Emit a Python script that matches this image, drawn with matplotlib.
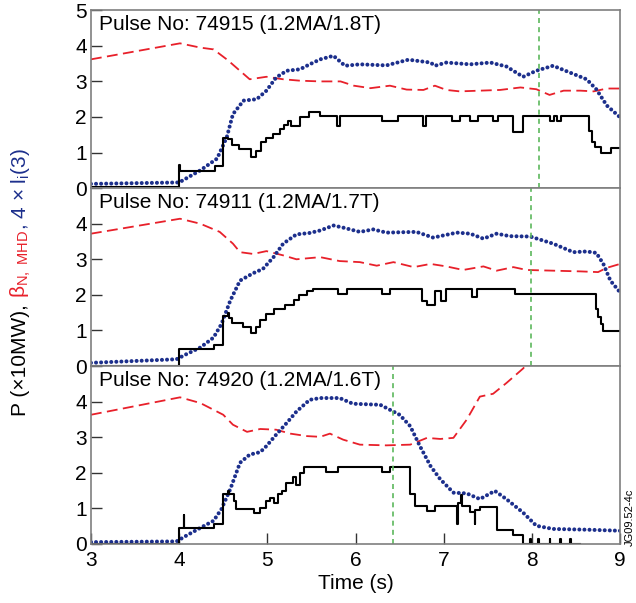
import matplotlib
matplotlib.use("Agg")
import matplotlib.pyplot as plt

plt.rcParams["font.family"] = ["Liberation Sans", "DejaVu Sans"]
plt.rcParams["mathtext.fontset"] = "custom"
plt.rcParams["mathtext.rm"] = "Liberation Sans"
plt.rcParams["mathtext.it"] = "Liberation Sans:italic"
plt.rcParams["mathtext.default"] = "regular"

# ---- pulse labels and green marker times
titles = ["Pulse No: 74915 (1.2MA/1.8T)",
          "Pulse No: 74911 (1.2MA/1.7T)",
          "Pulse No: 74920 (1.2MA/1.6T)"]
green_t = [8.08, 7.99, 6.42]

# ---- beta_N (red dashed)
beta_t1 = [3.0, 4.01, 4.24, 4.39, 4.55, 4.8, 4.99, 5.18, 5.37, 5.6, 5.83, 5.98, 6.17, 6.39,
           6.58, 6.77, 6.9, 7.03, 7.18, 7.41, 7.64, 7.87, 8.05, 8.2, 8.36, 8.55, 8.7, 8.85, 9.0]
beta_v1 = [3.62, 4.07, 3.95, 3.9, 3.6, 3.06, 3.13, 3.06, 3.02, 3.0, 3.0, 2.88, 2.81, 2.88,
           2.77, 2.76, 2.88, 2.76, 2.72, 2.74, 2.76, 2.83, 2.78, 2.62, 2.74, 2.74, 2.72, 2.8, 2.8]
beta_t2 = [3.0, 4.01, 4.24, 4.46, 4.61, 4.69, 4.84, 4.99, 5.18, 5.33, 5.6, 5.82, 6.05, 6.24,
           6.43, 6.66, 6.85, 7.03, 7.22, 7.45, 7.6, 7.79, 7.94, 8.24, 8.55, 8.75, 8.85, 9.0]
beta_v2 = [3.72, 4.14, 4.0, 3.77, 3.44, 3.2, 3.15, 3.23, 3.11, 3.0, 3.06, 2.95, 2.92, 2.82,
           2.92, 2.78, 2.87, 2.8, 2.7, 2.8, 2.68, 2.78, 2.7, 2.68, 2.66, 2.64, 2.76, 2.87]
beta_t3 = [3.0, 4.01, 4.24, 4.5, 4.61, 4.77, 4.92, 5.1, 5.26, 5.45, 5.6, 5.71, 5.86, 6.05,
           6.35, 6.62, 6.81, 6.96, 7.11, 7.26, 7.41, 7.56, 7.71, 7.9, 8.0, 8.1]
beta_v3 = [3.63, 4.12, 3.96, 3.63, 3.35, 3.15, 3.23, 3.21, 3.1, 3.03, 3.01, 3.1, 2.93, 2.79,
           2.77, 2.79, 2.98, 2.95, 2.98, 3.49, 4.14, 4.22, 4.52, 4.93, 5.2, 5.4]

# ---- 4 x li(3) (blue dots)
li_t1 = [3.0, 4.0, 4.24, 4.43, 4.54, 4.61, 4.73, 4.88, 4.99, 5.1, 5.22, 5.37, 5.48, 5.6,
         5.75, 5.88, 6.05, 6.35, 6.6, 6.85, 6.9, 7.03, 7.3, 7.53, 7.71, 7.9, 8.05, 8.24,
         8.43, 8.62, 8.73, 8.85, 9.0]
li_v1 = [0.12, 0.16, 0.5, 0.83, 1.43, 2.08, 2.46, 2.5, 2.74, 3.11, 3.3, 3.34, 3.48, 3.62,
         3.72, 3.44, 3.48, 3.45, 3.61, 3.53, 3.44, 3.53, 3.48, 3.53, 3.42, 3.13, 3.3, 3.44,
         3.25, 3.06, 2.78, 2.32, 1.99]
li_t2 = [3.0, 3.97, 4.08, 4.24, 4.39, 4.48, 4.58, 4.69, 4.84, 4.95, 5.07, 5.18, 5.33, 5.48,
         5.6, 5.75, 5.86, 6.05, 6.2, 6.35, 6.69, 6.88, 7.15, 7.3, 7.45, 7.6, 7.75, 7.98,
         8.24, 8.47, 8.62, 8.73, 8.81, 8.89, 9.0]
li_v2 = [0.09, 0.19, 0.33, 0.52, 0.8, 1.18, 1.84, 2.4, 2.61, 2.73, 3.06, 3.44, 3.7, 3.74,
         3.81, 3.95, 3.89, 3.77, 3.84, 3.75, 3.77, 3.61, 3.75, 3.72, 3.58, 3.72, 3.65, 3.64,
         3.44, 3.2, 3.22, 3.18, 2.87, 2.4, 2.07]
li_t3 = [3.0, 3.97, 4.08, 4.24, 4.39, 4.48, 4.58, 4.69, 4.8, 4.92, 4.99, 5.1, 5.22, 5.33,
         5.48, 5.6, 5.82, 5.97, 6.28, 6.39, 6.5, 6.62, 6.73, 6.85, 6.96, 7.11, 7.26, 7.41,
         7.58, 7.71, 7.9, 8.05, 8.24, 8.62, 9.0]
li_v3 = [0.05, 0.07, 0.23, 0.45, 0.65, 0.98, 1.54, 2.28, 2.51, 2.58, 2.75, 3.07, 3.4, 3.72,
         4.05, 4.1, 4.1, 3.94, 3.91, 3.77, 3.63, 3.31, 2.75, 2.19, 1.82, 1.44, 1.42, 1.26,
         1.49, 1.26, 0.88, 0.51, 0.42, 0.4, 0.37]

# ---- heating power P (black steps, value holds until next time)
p_t1 = [3.0, 4.0, 4.01, 4.41, 4.5, 4.55, 4.6, 4.68, 4.82, 4.87, 4.93, 4.98, 5.06, 5.14,
        5.19, 5.24, 5.27, 5.37, 5.47, 5.6, 5.79, 5.82, 6.3, 6.48, 6.77, 6.8, 7.09, 7.18,
        7.3, 7.39, 7.56, 7.62, 7.79, 7.9, 8.2, 8.25, 8.28, 8.33, 8.65, 8.68, 8.71, 8.78,
        8.9, 9.0]
p_v1 = [0.02, 0.65, 0.48, 0.62, 1.42, 1.38, 1.2, 1.1, 0.88, 1.05, 1.3, 1.4, 1.52, 1.65,
        1.78, 1.88, 1.75, 2.0, 2.15, 2.02, 1.76, 2.02, 1.88, 2.02, 1.76, 2.02, 1.88, 2.02,
        1.88, 2.02, 1.88, 2.02, 1.57, 2.02, 1.88, 2.02, 1.88, 2.02, 1.6, 1.3, 1.15, 0.98,
        1.12, 1.12]
p_t2 = [3.0, 4.0, 4.39, 4.5, 4.55, 4.56, 4.6, 4.72, 4.82, 4.87, 4.92, 4.98, 5.07, 5.2,
        5.3, 5.36, 5.45, 5.52, 5.8, 5.9, 6.3, 6.39, 6.75, 6.81, 6.9, 6.97, 7.03, 7.32,
        7.38, 7.81, 8.73, 8.75, 8.78, 8.81, 9.0]
p_v2 = [0.0, 0.47, 0.6, 1.41, 1.5, 1.35, 1.2, 1.1, 0.93, 1.1, 1.3, 1.45, 1.6, 1.72,
        1.85, 2.0, 2.1, 2.17, 2.02, 2.17, 2.02, 2.17, 1.84, 1.71, 2.1, 1.84, 2.17, 1.95,
        2.17, 2.02, 1.6, 1.37, 1.18, 0.99, 0.99]
p_t3 = [3.0, 4.0, 4.05, 4.06, 4.39, 4.5, 4.55, 4.57, 4.62, 4.64, 4.85, 4.92, 4.98, 5.03,
        5.08, 5.12, 5.17, 5.21, 5.29, 5.33, 5.37, 5.42, 5.67, 5.8, 6.3, 6.39, 6.62, 6.67,
        6.81, 6.9, 7.15, 7.16, 7.2, 7.21, 7.3, 7.35, 7.36, 7.41, 7.6, 7.79, 7.9, 7.98,
        7.99, 8.07, 8.08, 8.2, 8.21, 8.32, 8.33, 8.43, 8.44, 8.55]
p_v3 = [0.0, 0.45, 0.8, 0.45, 0.55, 1.4, 1.5, 1.4, 1.2, 0.97, 0.87, 1.0, 1.2, 1.3,
        1.15, 1.4, 1.5, 1.72, 1.88, 1.65, 2.0, 2.17, 2.02, 2.17, 2.02, 2.17, 1.4, 1.07,
        0.93, 1.07, 0.57, 1.14, 1.38, 1.07, 0.89, 0.57, 0.95, 1.03, 0.38, 0.26, 0.0, 0.15,
        0.0, 0.15, 0.0, 0.15, 0.0, 0.15, 0.0, 0.15, 0.0, 0.0]

panels = [(beta_t1, beta_v1, li_t1, li_v1, p_t1, p_v1),
          (beta_t2, beta_v2, li_t2, li_v2, p_t2, p_v2),
          (beta_t3, beta_v3, li_t3, li_v3, p_t3, p_v3)]

RED = "#e8202a"
BLUE = "#1c2f8c"
GREEN = "#5cb85c"
FRAME = "#7f7f7f"

fig, axes = plt.subplots(3, 1, sharex=True, figsize=(6.36, 6.03), dpi=100)
fig.subplots_adjust(left=0.143, right=0.975, top=0.983, bottom=0.098, hspace=0)

for i, ax in enumerate(axes):
    bt, bv, lt, lv, pt, pv = panels[i]
    ax.plot(bt, bv, color=RED, lw=1.3, linestyle=(0, (6, 3)))
    ax.plot(lt, lv, color=BLUE, lw=2.9, linestyle=(0, (0.01, 1.25)),
            dash_capstyle="round")
    ax.plot(pt, pv, color="black", lw=1.5, drawstyle="steps-post")
    ax.axvline(green_t[i], color=GREEN, lw=1.2, linestyle=(0, (3, 2.5)))
    ax.text(0.015, 0.972, titles[i], transform=ax.transAxes, ha="left", va="top",
            fontsize=15)
    ax.set_xlim(3, 9)
    ax.set_ylim(0, 5)
    ax.set_yticks([0, 1, 2, 3, 4, 5])
    if i == 0:
        ax.set_yticklabels(["0", "1", "2", "3", "4", "5"])
    else:
        ax.set_yticklabels(["0", "1", "2", "3", "4", ""])
    for s in ax.spines.values():
        s.set_color(FRAME)
        s.set_linewidth(1.2)
    ax.tick_params(axis="y", direction="in", length=8, width=1, color="#333333",
                   labelsize=15, pad=3)
    if i < 2:
        ax.tick_params(axis="x", length=0, labelbottom=False)
    else:
        ax.set_xticks([3, 4, 5, 6, 7, 8, 9])
        ax.tick_params(axis="x", direction="in", length=8, width=1, color="#333333",
                       labelsize=15, pad=5)

axes[2].set_xlabel("Time (s)", fontsize=15, labelpad=3)

# multi-coloured y label, built from pieces stacked bottom to top
pieces = [("P (\u00d710MW), ", "black"),
          (r"$\beta_{N,\ MHD}$", RED),
          (r", 4 $\times$ l$_{i}$(3)", BLUE)]
fig.canvas.draw()
renderer = fig.canvas.get_renderer()
texts = []
for s, c in pieces:
    t = fig.text(0.041, 0.0, s, rotation=90, rotation_mode="anchor", ha="left",
                 va="baseline", color=c, fontsize=15)
    texts.append(t)
lens = [t.get_window_extent(renderer).height for t in texts]
total = sum(lens)
fig_h = fig.get_figheight() * fig.dpi
start = (1 - 282 / 603.0) * fig_h - total / 2
for t, h in zip(texts, lens):
    t.set_y(start / fig_h)
    start += h

fig.text(0.99, 0.095, "JG09.52-4c", rotation=90, ha="center", va="bottom", fontsize=8)

fig.savefig("out.png", dpi=100)
